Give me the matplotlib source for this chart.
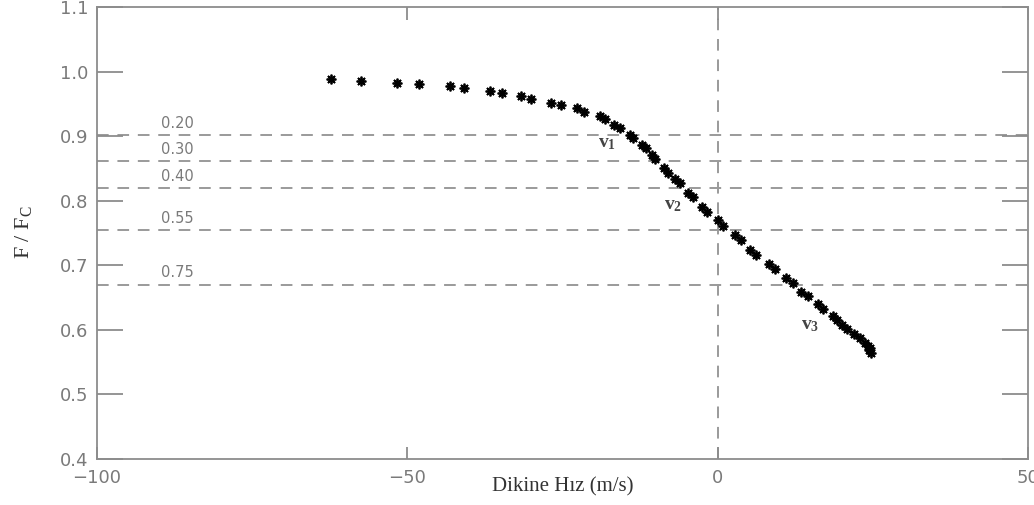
import matplotlib
matplotlib.use("Agg")
import matplotlib.pyplot as plt

# ---- data ----
velocity = [-62.3, -57.5, -51.6, -48.1, -43.1, -40.8, -36.7, -34.8, -31.7, -30.1,
            -26.9, -25.3, -22.7, -21.5, -18.9, -18.1, -16.7, -15.8, -14.1, -13.6,
            -12.2, -11.6, -10.6, -10.1, -8.65, -8.06, -6.88, -6.12, -4.79, -4.03,
            -2.58, -1.68, 0.05, 0.85, 2.74, 3.72, 5.16, 6.22, 8.31, 9.18,
            11.0, 12.1, 13.5, 14.5, 16.2, 17.0, 18.6, 19.2, 20.0, 20.8,
            21.9, 22.9, 23.8, 24.2, 24.4, 24.5, 24.7]
flux_ratio = [0.989, 0.986, 0.983, 0.981, 0.978, 0.975, 0.970, 0.967, 0.962, 0.958,
              0.952, 0.949, 0.943, 0.938, 0.931, 0.926, 0.918, 0.912, 0.902, 0.897,
              0.886, 0.881, 0.871, 0.864, 0.850, 0.843, 0.833, 0.827, 0.812, 0.805,
              0.791, 0.783, 0.770, 0.761, 0.747, 0.739, 0.724, 0.716, 0.702, 0.694,
              0.680, 0.672, 0.659, 0.652, 0.640, 0.632, 0.621, 0.616, 0.607, 0.601,
              0.594, 0.587, 0.580, 0.575, 0.569, 0.572, 0.564]

level_labels = ["0.20", "0.30", "0.40", "0.55", "0.75"]
level_values = [0.902, 0.862, 0.819, 0.755, 0.670]

v_labels = [r"$\mathregular{v_1}$", r"$\mathregular{v_2}$", r"$\mathregular{v_3}$"]
v_x = [-17.8, -7.2, 14.9]
v_y = [0.889, 0.792, 0.606]

x_ticks = [-100, -50, 0, 50]
y_ticks = [0.4, 0.5, 0.6, 0.7, 0.8, 0.9, 1.0, 1.1]

# ---- figure ----
fig = plt.figure(figsize=(10.34, 5.05), dpi=100)
ax = fig.add_axes([97/1034, 1 - 459/505, (1028 - 97)/1034, (459 - 7)/505])

axis_gray = "#8c8c8c"
line_gray = "#9a9a9a"
text_gray = "#7a7a7a"

# reference lines
for val in level_values:
    ax.axhline(val, color=line_gray, lw=1.4, dashes=(6, 4.5), zorder=1)
ax.axvline(0, color=line_gray, lw=1.4, dashes=(6, 4.5), zorder=1)

for lab, val in zip(level_labels, level_values):
    ax.annotate(lab, xy=(-87.1, val), xytext=(0, 3), textcoords="offset points",
                ha="center", va="bottom", fontsize=10.5, color=text_gray,
                family="DejaVu Sans")

# data
ax.plot(velocity, flux_ratio, linestyle="none", marker=(8, 2, 0),
        markersize=7, mew=1.3, color="black", zorder=3)

for lab, x, y in zip(v_labels, v_x, v_y):
    ax.text(x, y, lab, ha="center", va="center", fontsize=14,
            family="Liberation Serif", color="#444444", fontweight="bold")

ax.set_xlim(-100, 50)
ax.set_ylim(0.4, 1.1)
ax.set_xticks(x_ticks)
ax.set_xticklabels(["\u2212100", "\u221250", "0", "50"])
ax.set_yticks(y_ticks)
ax.set_yticklabels([f"{v:.1f}" for v in y_ticks])

for side in ax.spines.values():
    side.set_color(axis_gray)
    side.set_linewidth(1.3)

ax.tick_params(axis="both", direction="in", top=True, right=True,
               color=axis_gray, width=1.3, labelcolor=text_gray, labelsize=13)
ax.tick_params(axis="y", length=18.6, pad=6)
ax.tick_params(axis="x", length=9, pad=7)

fig.text(563/1034, 1 - 487/505, "Dikine H\u0131z (m/s)", ha="center", va="center",
         fontsize=15, family="Liberation Serif", color="#333333")
fig.text(24/1034, 1 - 232/505, r"F / F$_\mathregular{C}$", ha="center", va="center",
         rotation=90, fontsize=16, family="Liberation Serif", color="#333333")

fig.savefig("out.png", dpi=100)
